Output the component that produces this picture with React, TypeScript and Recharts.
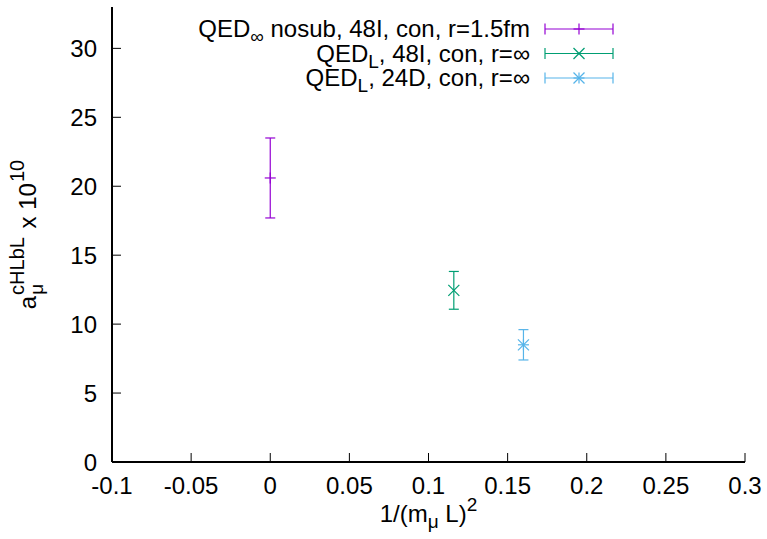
import React from 'react';
import { ScatterChart, Scatter, XAxis, YAxis, ErrorBar, Legend } from 'recharts';

const FONT = '"Liberation Sans", Arial, Helvetica, sans-serif';
const FS = 24;
const SUB = 19;

// series labels (gnuplot enhanced text: main + subscript + rest)
const seriesNames = ['QED∞ nosub, 48I, con, r=1.5fm', 'QEDL, 48I, con, r=∞', 'QEDL, 24D, con, r=∞'];
const seriesSubs = ['∞', 'L', 'L'];
const seriesRest = [' nosub, 48I, con, r=1.5fm', ', 48I, con, r=∞', ', 24D, con, r=∞'];
const seriesColors = ['#9400d3', '#009e73', '#56b4e9'];
const seriesMarkers = ['plus', 'cross', 'star'];

// one point per series
const invL2 = [0, 0.116, 0.16];
const amu = [20.6, 12.45, 8.5];
const amuErr = [2.9, 1.37, 1.1];

const xTicks = [-0.1, -0.05, 0, 0.05, 0.1, 0.15, 0.2, 0.25, 0.3];
const yTicks = [0, 5, 10, 15, 20, 25, 30];

function Marker({ cx, cy, kind, color }: { cx: number; cy: number; kind: string; color: string }) {
  const s = 5.5;
  const plus = (
    <>
      <line x1={cx - s} y1={cy} x2={cx + s} y2={cy} />
      <line x1={cx} y1={cy - s} x2={cx} y2={cy + s} />
    </>
  );
  const cross = (
    <>
      <line x1={cx - s} y1={cy - s} x2={cx + s} y2={cy + s} />
      <line x1={cx - s} y1={cy + s} x2={cx + s} y2={cy - s} />
    </>
  );
  return (
    <g stroke={color} strokeWidth={1.2} fill="none">
      {kind !== 'cross' && plus}
      {kind !== 'plus' && cross}
    </g>
  );
}

const renderLegend = () => {
  const textRight = 530;
  const x1 = 545;
  const x2 = 613;
  return (
    <svg width={767} height={100} style={{ display: 'block' }}>
      {seriesNames.map((name, i) => {
        const y = 29 + i * 24.5;
        const c = seriesColors[i];
        return (
          <g key={name}>
            <text x={textRight} y={y + 8} textAnchor="end" fontFamily={FONT} fontSize={FS} fill="#000">
              QED
              <tspan fontSize={SUB} dy={6}>{seriesSubs[i]}</tspan>
              <tspan fontSize={FS} dy={-6}>{seriesRest[i]}</tspan>
            </text>
            <g stroke={c} strokeWidth={1.2}>
              <line x1={x1} y1={y} x2={x2} y2={y} />
              <line x1={x1} y1={y - 5.5} x2={x1} y2={y + 5.5} />
              <line x1={x2} y1={y - 5.5} x2={x2} y2={y + 5.5} />
            </g>
            <Marker cx={(x1 + x2) / 2} cy={y} kind={seriesMarkers[i]} color={c} />
          </g>
        );
      })}
    </svg>
  );
};

const XLabel = (props: any) => {
  const { viewBox } = props;
  const cx = viewBox.x + viewBox.width / 2;
  const y = viewBox.y + 60;
  return (
    <text x={cx} y={y} textAnchor="middle" fontFamily={FONT} fontSize={FS} fill="#000">
      1/(m
      <tspan fontSize={SUB} dy={6}>μ</tspan>
      <tspan fontSize={FS} dy={-6}> L)</tspan>
      <tspan fontSize={SUB} dy={-11}>2</tspan>
    </text>
  );
};

const YLabel = (props: any) => {
  const { viewBox } = props;
  const x = 36;
  const y = viewBox.y + viewBox.height / 2;
  return (
    <g transform={`translate(${x},${y}) rotate(-90)`}>
      <text x={0} y={0} textAnchor="middle" fontFamily={FONT} fontSize={FS} fill="#000">
        a
        <tspan fontSize={SUB} dx={1} dy={7}>μ</tspan>
        <tspan fontSize={20} dx={-11} dy={-19}>cHLbL</tspan>
        <tspan fontSize={FS} dx={2} dy={12}> x 10</tspan>
        <tspan fontSize={20} dx={1} dy={-12}>10</tspan>
      </text>
    </g>
  );
};

const tickStyle = { fill: '#000', fontSize: FS, fontFamily: FONT };

export default function App() {
  return (
    <div style={{ position: 'absolute', left: 0, top: 0, width: 767, height: 539, background: '#fff' }}>
      <ScatterChart width={767} height={539} margin={{ top: 7, right: 22, bottom: 0, left: 0 }}>
        <XAxis
          xAxisId="b"
          type="number"
          dataKey="x"
          domain={[-0.1, 0.3]}
          ticks={xTicks}
          interval={0}
          height={77}
          tickSize={-9}
          tickMargin={24}
          tick={tickStyle}
          tickLine={{ stroke: '#000', strokeWidth: 1 }}
          axisLine={{ stroke: '#000', strokeWidth: 2 }}
          label={<XLabel />}
          allowDataOverflow
        />
        <XAxis
          xAxisId="t"
          orientation="top"
          type="number"
          domain={[-0.1, 0.3]}
          ticks={xTicks}
          interval={0}
          height={0}
          tickSize={-9}
          tick={false}
          tickLine={{ stroke: '#000', strokeWidth: 1 }}
          axisLine={{ stroke: '#000', strokeWidth: 2 }}
          allowDataOverflow
        />
        <YAxis
          yAxisId="l"
          type="number"
          dataKey="y"
          domain={[0, 33]}
          ticks={yTicks}
          interval={0}
          width={112}
          tickSize={-9}
          tickMargin={24}
          tick={tickStyle}
          tickLine={{ stroke: '#000', strokeWidth: 1 }}
          axisLine={{ stroke: '#000', strokeWidth: 2 }}
          label={<YLabel />}
          allowDataOverflow
        />
        <YAxis
          yAxisId="r"
          orientation="right"
          type="number"
          domain={[0, 33]}
          ticks={yTicks}
          interval={0}
          width={0}
          tickSize={-9}
          tick={false}
          tickLine={{ stroke: '#000', strokeWidth: 1 }}
          axisLine={{ stroke: '#000', strokeWidth: 2 }}
          allowDataOverflow
        />
        <Legend
          layout="horizontal"
          verticalAlign="middle"
          align="center"
          content={renderLegend}
          wrapperStyle={{ position: 'absolute', left: 0, top: 0, width: 767, height: 100 }}
        />
        {seriesNames.map((name, i) => (
          <Scatter
            key={name}
            name={name}
            xAxisId="b"
            yAxisId="l"
            data={[{ x: invL2[i], y: amu[i], err: amuErr[i] }]}
            fill={seriesColors[i]}
            isAnimationActive={false}
            shape={(p: any) => <Marker cx={p.cx} cy={p.cy} kind={seriesMarkers[i]} color={seriesColors[i]} />}
          >
            <ErrorBar dataKey="err" direction="y" width={5} stroke={seriesColors[i]} strokeWidth={1.2} isAnimationActive={false} />
          </Scatter>
        ))}
      </ScatterChart>
    </div>
  );
}
